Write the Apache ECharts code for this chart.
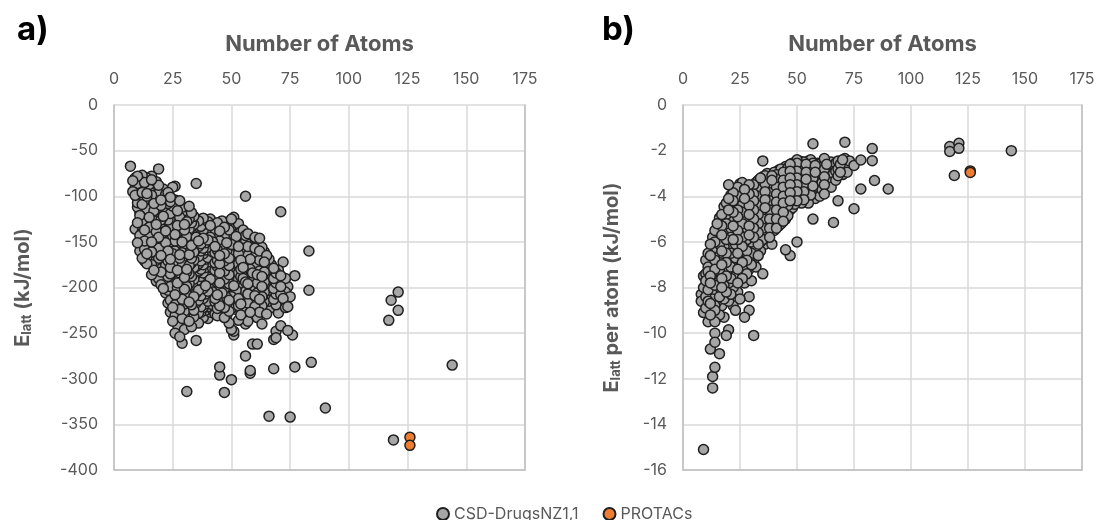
<!DOCTYPE html>
<html><head><meta charset="utf-8">
<script src="https://cdn.jsdelivr.net/npm/echarts@6/dist/echarts.min.js"></script>
<style>html,body{margin:0;padding:0;background:#fff}#c{width:1101px;height:520px}</style>
</head><body><div id="c"></div>
<script>
// ---- Data ----
const xTicks = [0, 25, 50, 75, 100, 125, 150, 175];
const seriesNames = ['CSD-DrugsNZ1,1', 'PROTACs'];

// Panel a: [number of atoms, [E_latt values (kJ/mol)]]
const csdA = [
[7,[-67]],[8,[-83,-95]],[9,[-80,-91,-136,-99]],[10,[-78,-86,-90,-107,-112,-129,-151]],
[11,[-83,-88,-101,-117,-121,-143,-160]],[12,[-77,-92,-96,-109,-127,-133,-139,-155,-168]],
[13,[-85,-89,-104,-110,-118,-137,-149,-158,-171]],[14,[-80,-97,-100,-114,-125,-128,-147,-163,-174]],
[15,[-87,-93,-106,-119,-123,-134,-141,-152,-166]],[16,[-78,-82,-99,-113,-130,-136,-150,-161,-175,-186]],
[17,[-91,-94,-108,-116,-127,-144,-148,-159,-181]],[18,[-84,-102,-105,-121,-131,-139,-154,-170,-177,-193]],
[19,[-70,-88,-97,-112,-124,-129,-145,-157,-168,-190]],[20,[-95,-104,-110,-126,-135,-148,-152,-165,-183,-197]],
[21,[-92,-101,-118,-122,-140,-147,-162,-173,-180,-201]],[22,[-98,-113,-117,-133,-138,-151,-166,-176,-194,-206]],
[23,[-96,-108,-126,-130,-143,-157,-160,-171,-188,-203,-217]],
[24,[-101,-106,-119,-135,-146,-150,-169,-178,-185,-199,-214,-227]],
[25,[-90,-111,-115,-128,-137,-155,-163,-174,-182,-196,-211,-222,-237]],
[26,[-89,-104,-121,-125,-142,-149,-160,-177,-187,-192,-208,-219,-231,-250]],
[27,[-109,-116,-132,-139,-147,-158,-170,-181,-195,-200,-213,-228,-241]],
[28,[-105,-123,-127,-141,-153,-164,-168,-184,-190,-205,-216,-224,-254]],
[29,[-112,-120,-134,-145,-150,-162,-175,-179,-193,-209,-213,-234,-261]],
[30,[-115,-118,-131,-137,-152,-159,-171,-186,-189,-202,-218,-226,-246]],
[31,[-121,-128,-144,-148,-156,-167,-180,-183,-199,-207,-221,-230,-314]],
[32,[-111,-125,-136,-141,-157,-164,-176,-185,-196,-211,-216,-237]],
[33,[-118,-129,-133,-150,-154,-168,-173,-188,-192,-204,-219,-243]],
[34,[-122,-131,-143,-147,-161,-170,-178,-191,-200,-210,-225,-232]],
[35,[-86,-126,-138,-145,-158,-163,-177,-185,-197,-206,-217,-258]],
[36,[-127,-134,-149,-155,-166,-174,-182,-193,-203,-214,-228,-239]],
[37,[-133,-140,-152,-160,-171,-180,-188,-199,-209,-221,-227]],
[38,[-124,-137,-146,-157,-163,-175,-184,-196,-201,-212,-222,-233]],
[39,[-130,-135,-151,-159,-169,-178,-190,-198,-207,-218,-225]],
[40,[-128,-142,-148,-156,-167,-172,-187,-194,-204,-215,-221,-234]],
[41,[-125,-132,-145,-153,-164,-176,-183,-191,-202,-211,-227]],
[42,[-131,-138,-150,-161,-168,-179,-186,-197,-205,-219,-224]],
[43,[-136,-144,-155,-162,-173,-181,-189,-200,-212,-216,-229]],
[44,[-129,-141,-147,-159,-170,-177,-192,-198,-208,-223,-231]],
[45,[-138,-149,-154,-165,-174,-184,-195,-203,-213,-220,-287,-296]],
[46,[-127,-135,-146,-158,-166,-178,-187,-194,-206,-217,-225]],
[47,[-134,-143,-152,-163,-171,-182,-191,-201,-209,-222,-233,-315]],
[48,[-131,-139,-151,-160,-172,-180,-190,-199,-211,-218,-230]],
[49,[-137,-147,-156,-168,-176,-186,-196,-204,-214,-226,-239]],
[50,[-125,-133,-142,-153,-164,-173,-183,-192,-202,-210,-223,-246,-301]],
[51,[-123,-140,-150,-161,-169,-179,-189,-198,-207,-219,-248,-252]],
[52,[-135,-144,-158,-166,-177,-185,-195,-203,-215,-224]],
[53,[-130,-148,-155,-163,-174,-184,-191,-202,-212,-220,-236]],
[54,[-139,-147,-157,-170,-180,-188,-197,-209,-218,-230]],
[55,[-137,-152,-160,-167,-178,-190,-199,-206,-216,-233]],
[56,[-100,-143,-150,-162,-173,-183,-194,-204,-213,-223,-240,-275]],
[57,[-141,-155,-165,-176,-186,-196,-207,-217,-237]],
[58,[-147,-158,-169,-180,-189,-200,-211,-227,-291,-294]],
[59,[-151,-161,-172,-184,-193,-203,-214,-231,-262]],
[60,[-145,-157,-166,-178,-188,-198,-209,-221]],
[61,[-153,-163,-174,-186,-195,-206,-217,-233,-262]],
[62,[-146,-160,-170,-182,-192,-203,-213,-227]],
[63,[-156,-165,-177,-188,-199,-210,-220,-240]],
[64,[-161,-172,-183,-194,-205,-216,-224]],
[65,[-165,-176,-186,-198,-209,-229]],
[66,[-169,-180,-191,-203,-215,-341]],
[67,[-175,-185,-196,-208,-222]],
[68,[-179,-190,-201,-213,-257,-289]],
[69,[-184,-195,-207,-219,-248,-255]],
[70,[-181,-191,-203,-228]],
[71,[-117,-187,-199,-208,-242]],
[72,[-172,-194,-212]],[73,[-190,-205,-222]],[74,[-199,-221,-247]],
[75,[-210,-342]],[76,[-252]],[77,[-187,-287]],[83,[-160,-203]],[84,[-282]],[90,[-332]],
[117,[-236]],[118,[-214]],[119,[-367]],[121,[-205,-225]],[144,[-285]]
];
const protacA = [[126,[-364,-373]]];

// Panel b: [number of atoms, [E_latt per atom values (kJ/mol)]]
const csdB = [
[8,[-8.3,-8.6]],[9,[-15.1,-7.5,-8.0,-9.1]],[10,[-6.8,-7.4,-7.7,-8.4,-8.9]],
[11,[-6.5,-7.1,-7.3,-8.1,-8.6,-9.5]],[12,[-6.1,-6.6,-7.5,-7.8,-8.7,-9.2,-10.7]],
[13,[-5.8,-6.3,-6.9,-7.6,-8.3,-8.5,-9.3,-11.9,-12.4]],
[14,[-5.5,-6.0,-6.8,-7.2,-7.9,-8.8,-9.0,-9.5,-10.0,-10.4,-11.5]],
[15,[-5.2,-5.9,-6.3,-6.7,-7.4,-8.2,-8.6,-9.3]],
[16,[-4.95,-5.6,-6.1,-6.9,-7.2,-7.7,-8.4,-9.2,-10.9]],
[17,[-4.8,-5.3,-5.7,-6.4,-7.0,-7.6,-8.0,-8.8]],
[18,[-4.45,-5.0,-5.5,-6.2,-6.6,-7.3,-7.9,-8.5,-9.3]],
[19,[-4.3,-4.8,-5.2,-5.9,-6.5,-6.9,-7.5,-8.2,-10.1]],
[20,[-3.5,-4.1,-4.6,-5.0,-5.6,-6.3,-6.8,-7.4,-7.8,-8.6,-9.85]],
[21,[-3.95,-4.4,-4.9,-5.4,-5.8,-6.5,-7.1,-7.6,-8.3]],
[22,[-3.85,-4.2,-4.7,-5.3,-5.9,-6.2,-6.9,-7.3,-8.0,-8.8]],
[23,[-3.75,-4.3,-4.5,-5.1,-5.6,-6.1,-6.7,-7.5,-9.0]],
[24,[-3.6,-4.0,-4.6,-4.9,-5.5,-5.9,-6.5,-7.2,-7.8,-8.2]],
[25,[-3.45,-3.9,-4.3,-4.8,-5.3,-5.7,-6.3,-6.8,-7.4,-8.5]],
[26,[-3.4,-3.8,-4.4,-4.7,-5.2,-5.8,-6.2,-6.9,-7.6]],
[27,[-3.7,-4.1,-4.5,-5.0,-5.5,-6.0,-6.6,-7.1,-7.8,-9.3]],
[28,[-3.55,-4.2,-4.6,-4.9,-5.4,-5.9,-6.4,-6.8,-7.4]],
[29,[-3.5,-3.9,-4.4,-4.8,-5.3,-5.7,-6.1,-6.7,-7.2,-8.4,-9.0]],
[30,[-3.65,-4.0,-4.3,-4.7,-5.1,-5.6,-6.0,-6.5,-7.0,-7.7]],
[31,[-3.5,-3.9,-4.2,-4.6,-5.0,-5.4,-5.8,-6.3,-6.9,-10.1]],
[32,[-3.4,-3.8,-4.1,-4.5,-4.9,-5.3,-5.9,-6.2,-7.1]],
[33,[-3.3,-3.7,-4.0,-4.4,-4.8,-5.2,-5.6,-6.1,-6.6]],
[34,[-3.2,-3.6,-3.95,-4.3,-4.7,-5.1,-5.5,-6.0,-6.4]],
[35,[-2.45,-3.15,-3.5,-3.9,-4.2,-4.6,-5.0,-5.4,-5.9,-7.4]],
[36,[-3.1,-3.45,-3.8,-4.15,-4.5,-4.9,-5.3,-5.7,-6.1]],
[37,[-3.0,-3.4,-3.7,-4.1,-4.4,-4.8,-5.2,-5.6]],
[38,[-3.2,-3.5,-3.85,-4.2,-4.6,-5.0,-5.4,-5.8]],
[39,[-3.1,-3.3,-3.75,-4.05,-4.5,-4.8,-5.3,-6.1]],
[40,[-2.95,-3.35,-3.65,-4.0,-4.35,-4.7,-5.1,-5.5]],
[41,[-3.06,-3.25,-3.6,-3.9,-4.25,-4.6,-5.0,-5.4]],
[42,[-2.85,-3.2,-3.5,-3.85,-4.2,-4.55,-4.9,-5.3]],
[43,[-2.8,-3.1,-3.45,-3.75,-4.1,-4.45,-4.8,-5.2]],
[44,[-2.95,-3.3,-3.6,-4.0,-4.3,-4.7,-5.1]],
[45,[-2.7,-3.0,-3.25,-3.55,-3.9,-4.2,-4.6,-5.0,-6.35]],
[46,[-2.75,-3.1,-3.4,-3.7,-4.05,-4.4,-4.85]],
[47,[-2.6,-2.9,-3.2,-3.5,-3.85,-4.2,-4.6,-6.6]],
[48,[-2.55,-2.85,-3.15,-3.45,-3.75,-4.1,-4.5]],
[49,[-2.6,-2.95,-3.3,-3.6,-3.95,-4.35]],
[50,[-2.4,-2.55,-2.9,-3.2,-3.5,-3.8,-4.2,-6.0]],
[51,[-2.45,-2.8,-3.1,-3.4,-3.7,-4.1]],
[52,[-2.5,-2.75,-3.05,-3.35,-3.65,-4.0,-4.3]],
[53,[-2.5,-2.85,-3.15,-3.5,-3.8,-4.15]],
[54,[-2.6,-2.95,-3.25,-3.55,-3.9]],
[55,[-2.45,-2.75,-3.05,-3.4,-3.75,-4.3]],
[56,[-2.4,-2.7,-3.0,-3.3,-3.6,-3.95]],
[57,[-1.7,-2.55,-2.9,-3.2,-3.55,-5.0]],
[58,[-2.65,-2.95,-3.25,-3.6,-4.1]],
[59,[-2.55,-2.85,-3.15,-3.45,-3.8]],
[60,[-2.6,-2.9,-3.3,-3.65,-4.0]],
[61,[-2.7,-3.05,-3.4,-3.7]],
[62,[-2.35,-2.8,-3.15,-3.5,-3.9]],
[63,[-2.6,-2.95,-3.3]],[64,[-2.75,-3.1,-3.45]],[65,[-2.5,-2.85,-3.2,-3.6]],
[66,[-2.65,-3.0,-5.15]],[67,[-2.55,-2.9,-3.3]],[68,[-2.45,-2.8,-3.1,-4.2]],
[69,[-2.6,-2.95]],[70,[-2.4,-2.75,-3.05]],[71,[-1.63,-2.35,-2.85]],[72,[-2.55,-2.95]],
[73,[-2.45]],[75,[-4.55,-2.65]],[78,[-2.41,-3.68]],[83,[-1.91,-2.44]],[84,[-3.31]],
[90,[-3.68]],[117,[-1.82,-2.04]],[119,[-3.09]],[121,[-1.68,-1.9]],[144,[-2.0]]
];
const protacB = [[126,[-2.89,-2.96]]];

// ---- build point tables (values unchanged; only the drawing order is interleaved) ----
function gcd(a, b) { return b ? gcd(b, a % b) : a; }
function pts(groups) {
  const flat = [];
  groups.forEach(g => g[1].forEach(v => flat.push([g[0], v])));
  const n = flat.length;
  let s = Math.round(n * 0.618);
  while (gcd(s, n) !== 1) s++;
  const out = [];
  for (let i = 0; i < n; i++) out.push(flat[(i * s) % n]);
  return out;
}

const FONT = 'Inter, "Open Sans", sans-serif';
const LABEL = '#595959';
const GRIDC = '#d9d9d9';
const AXISC = '#bfbfbf';

function axesFor(gi, ymin, yint, yname, nameGap) {
  const x = [
    { gridIndex: gi, type: 'value', position: 'top', min: 0, max: 175, interval: 25,
      name: 'Number of Atoms', nameLocation: 'middle', nameGap: 50,
      nameTextStyle: { color: LABEL, fontSize: 22, fontWeight: 'bold', fontFamily: FONT },
      axisLine: { show: false }, axisTick: { show: false },
      axisLabel: { color: LABEL, fontSize: 16, fontFamily: FONT, margin: 18 },
      splitLine: { show: true, lineStyle: { color: GRIDC, width: 1.5 } } },
    { gridIndex: gi, type: 'value', position: 'bottom', min: 0, max: 175, interval: 25,
      axisLine: { show: true, onZero: false, lineStyle: { color: AXISC, width: 1.5 } },
      axisTick: { show: false }, axisLabel: { show: false }, splitLine: { show: false } }
  ];
  const y = [
    { gridIndex: gi, type: 'value', min: ymin, max: 0, interval: yint,
      name: yname, nameLocation: 'middle', nameGap: nameGap, nameRotate: 90,
      nameTextStyle: { color: LABEL, fontFamily: FONT,
        rich: { b: { fontSize: 20, fontWeight: 'bold', color: LABEL, fontFamily: FONT },
                s: { fontSize: 13, fontWeight: 'bold', color: LABEL, fontFamily: FONT, padding: [10, 0, 0, 0] } } },
      axisLine: { show: true, onZero: false, lineStyle: { color: AXISC, width: 1.5 } },
      axisTick: { show: false },
      axisLabel: { color: LABEL, fontSize: 16, fontFamily: FONT, margin: 16 },
      splitLine: { show: true, lineStyle: { color: GRIDC, width: 1.5 } } },
    { gridIndex: gi, type: 'value', position: 'right', min: ymin, max: 0, interval: yint,
      axisLine: { show: true, onZero: false, lineStyle: { color: AXISC, width: 1.5 } },
      axisTick: { show: false }, axisLabel: { show: false }, splitLine: { show: false } }
  ];
  return { x, y };
}

const ax0 = axesFor(0, -400, 50, '{b|E}{s|latt}{b| (kJ/mol)}', 80);
const ax1 = axesFor(1, -16, 2, '{b|E}{s|latt}{b| per atom (kJ/mol)}', 60);

const grayStyle = { color: '#a6a6a6', borderColor: '#1f1f1f', borderWidth: 1.5, opacity: 1 };
const orangeStyle = { color: '#ed7d31', borderColor: '#1f1f1f', borderWidth: 1.5, opacity: 1 };

const option = {
  backgroundColor: '#ffffff',
  animation: false,
  textStyle: { fontFamily: FONT },
  title: [
    { text: 'a)', left: 12, top: 9, textStyle: { fontSize: 33, fontWeight: 'bold', color: '#000', fontFamily: FONT } },
    { text: 'b)', left: 597, top: 9, textStyle: { fontSize: 33, fontWeight: 'bold', color: '#000', fontFamily: FONT } }
  ],
  legend: {
    top: 501, left: 431, itemGap: 24, icon: 'circle', itemWidth: 12, itemHeight: 12,
    textStyle: { color: LABEL, fontSize: 16, fontFamily: FONT },
    data: seriesNames
  },
  grid: [
    { left: 114, top: 105, width: 411, height: 365 },
    { left: 683, top: 105, width: 399, height: 365 }
  ],
  xAxis: [...ax0.x, ...ax1.x],
  yAxis: [...ax0.y, ...ax1.y],
  series: [
    { name: seriesNames[0], type: 'scatter', xAxisIndex: 0, yAxisIndex: 0, symbolSize: 10, itemStyle: grayStyle, data: pts(csdA) },
    { name: seriesNames[1], type: 'scatter', xAxisIndex: 0, yAxisIndex: 0, symbolSize: 10, itemStyle: orangeStyle, data: pts(protacA) },
    { name: seriesNames[0], type: 'scatter', xAxisIndex: 2, yAxisIndex: 2, symbolSize: 10, itemStyle: grayStyle, data: pts(csdB) },
    { name: seriesNames[1], type: 'scatter', xAxisIndex: 2, yAxisIndex: 2, symbolSize: 10, itemStyle: orangeStyle, data: pts(protacB) }
  ]
};

const chart = echarts.init(document.getElementById('c'), null, { renderer: 'canvas' });
chart.setOption(option);
</script></body></html>
